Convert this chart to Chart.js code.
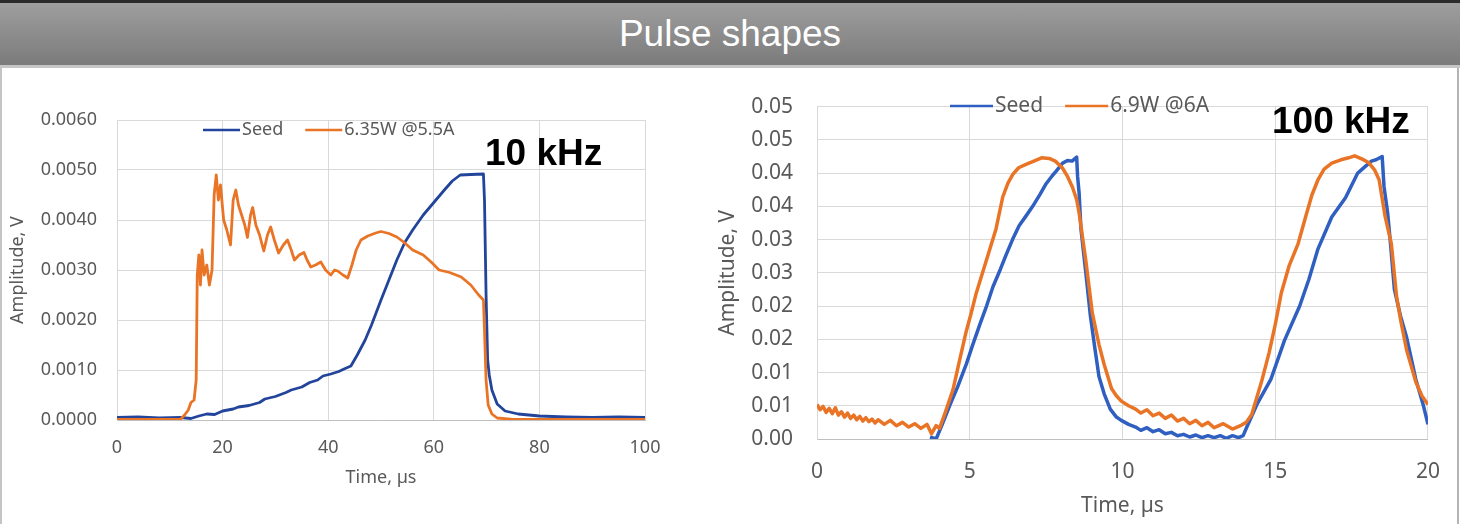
<!DOCTYPE html>
<html>
<head>
<meta charset="utf-8">
<script src="https://cdn.jsdelivr.net/npm/chart.js@4"></script>
<style>
  body { margin: 0; width: 1460px; height: 524px; background: #fff; position: relative; overflow: hidden; font-family: "Liberation Sans", Arial, sans-serif; }
  #bar { position: absolute; left: 0; top: 0; width: 1460px; height: 62px; border-top: 3px solid #2b2b2b; border-bottom: 3px solid #c6c6c6;
         background: linear-gradient(#9e9e9e, #7b7b7b); color: #fff; font-size: 37px; text-align: center; line-height: 62px; }
  #panel { position: absolute; left: 0; top: 68px; width: 1455px; height: 456px; border-left: 2px solid #c4c4c4; border-right: 2px solid #b4b4b4; }
  canvas { position: absolute; top: 70px; }
  #c10 { left: 0; }
  #c100 { left: 700px; }
</style>
</head>
<body>
<div id="bar">Pulse shapes</div>
<div id="panel"></div>
<canvas id="c10" width="700" height="454"></canvas>
<canvas id="c100" width="760" height="454"></canvas>
<script>
// ---- data ([time µs, amplitude V]) ----
const seriesNames10 = ["Seed", "6.35W @5.5A"];
const seriesNames100 = ["Seed", "6.9W @6A"];

const seed10k = [[0,0.00005],[4,0.00006],[8,0.00004],[12,0.00005],[14,0.00003],[15.5,0.00008],[17,0.00012],[18.5,0.00011],
  [20,0.00018],[22,0.00022],[23,0.00026],[25,0.00029],[27,0.00035],[28,0.00042],[30,0.00047],[32,0.00055],[33,0.0006],
  [35,0.00066],[36.5,0.00075],[38,0.0008],[39,0.00088],[40.5,0.00092],[42,0.00097],[43,0.00102],[44.3,0.00108],
  [45.5,0.0013],[47,0.0016],[48.2,0.0019],[50,0.0024],[51.5,0.0028],[53,0.0032],[54.5,0.00355],[56,0.0038],[58,0.0041],
  [60,0.00435],[62,0.0046],[63.5,0.00478],[65,0.0049],[67,0.00491],[69.4,0.00492],[69.6,0.0044],[69.9,0.0025],
  [70.2,0.0012],[70.5,0.0009],[71,0.0006],[72,0.00032],[73.5,0.00018],[76,0.00012],[80,0.00008],[85,0.00006],
  [90,0.00005],[95,0.00006],[100,0.00005]];

const amp10k = [[0,0.00001],[12,0.00001],[12.8,0.0001],[13.5,0.0002],[14,0.00035],[14.6,0.0004],[15,0.0008],[15.2,0.0029],
  [15.5,0.0033],[15.8,0.0027],[16.1,0.0034],[16.5,0.0029],[17,0.0031],[17.5,0.0027],[18,0.003],[18.4,0.0045],[18.8,0.0049],
  [19.2,0.0044],[19.6,0.0047],[20.2,0.004],[20.8,0.0038],[21.5,0.0035],[22,0.0044],[22.5,0.0046],[23,0.0043],[23.6,0.0041],
  [24.2,0.0039],[24.7,0.00365],[25.3,0.0041],[25.7,0.00425],[26.3,0.0039],[27,0.0037],[27.8,0.00338],[28.5,0.0037],
  [29.1,0.00386],[29.8,0.0036],[30.6,0.00334],[31.5,0.0035],[32.3,0.0036],[33,0.0034],[33.6,0.0032],[34.5,0.0033],
  [35.4,0.00335],[36,0.0032],[36.7,0.00306],[37.6,0.0031],[38.6,0.00316],[39.5,0.003],[40.5,0.0029],[41.2,0.003],
  [41.8,0.00298],[42.8,0.0029],[43.7,0.00284],[44.5,0.0031],[45.3,0.0034],[46.2,0.0036],[47.5,0.00368],[49,0.00374],
  [50,0.00377],[51.5,0.00373],[53,0.00366],[54.4,0.00355],[56,0.0034],[58,0.0033],[59.5,0.00316],[61,0.003],[63,0.00295],
  [65.2,0.00286],[67,0.0027],[68.5,0.0025],[69.4,0.0024],[69.6,0.0018],[69.9,0.0008],[70.3,0.0003],[71,0.00012],
  [72,0.00004],[75,0.00001],[100,0.00001]];

const seed100k = [[3.7,0.0003],[3.9,0.0],[4.1,0.0022],[4.34,0.005],[4.6,0.0078],[4.89,0.0113],[5.1,0.0142],[5.32,0.0171],
  [5.55,0.02],[5.76,0.0229],[6.0,0.0255],[6.19,0.0277],[6.4,0.03],[6.62,0.0321],[6.85,0.0336],[7.06,0.035],[7.3,0.0368],
  [7.5,0.0384],[7.7,0.0396],[7.83,0.0403],[8.04,0.0415],[8.2,0.0419],[8.35,0.0418],[8.5,0.0424],[8.53,0.0395],
  [8.58,0.037],[8.64,0.0316],[8.8,0.025],[8.95,0.0185],[9.1,0.0135],[9.23,0.0094],[9.4,0.0068],[9.6,0.0045],[9.8,0.0033],
  [9.96,0.0028],[10.2,0.0022],[10.43,0.0018],[10.6,0.0013],[10.8,0.0017],[11.0,0.0011],[11.2,0.0014],[11.4,0.0008],
  [11.6,0.001],[11.8,0.0005],[12.0,0.0007],[12.2,0.0003],[12.4,0.0006],[12.6,0.0002],[12.8,0.0005],[13.0,0.0002],
  [13.2,0.0005],[13.4,0.0001],[13.6,0.0005],[13.8,0.0002],[13.95,0.0005],[14.07,0.0018],[14.4,0.0052],[14.86,0.009],
  [15.3,0.0148],[15.8,0.02],[16.1,0.024],[16.4,0.0286],[16.85,0.0334],[17.3,0.0363],[17.7,0.04],[17.95,0.041],
  [18.15,0.0418],[18.3,0.042],[18.5,0.0425],[18.56,0.038],[18.68,0.034],[18.78,0.029],[18.9,0.0225],[19.1,0.0185],
  [19.3,0.0153],[19.6,0.009],[19.84,0.0052],[20,0.0022]];

const amp100k = [[0,0.0052],[0.1,0.0044],[0.2,0.0049],[0.3,0.004],[0.4,0.0046],[0.5,0.0038],[0.6,0.0047],[0.7,0.0036],
  [0.8,0.0041],[0.9,0.0033],[1.0,0.0039],[1.1,0.0031],[1.2,0.0036],[1.3,0.0029],[1.4,0.0034],[1.5,0.0027],[1.6,0.0032],
  [1.7,0.0026],[1.8,0.003],[1.9,0.0024],[2.0,0.0029],[2.2,0.0022],[2.4,0.0028],[2.6,0.002],[2.8,0.0025],[3.0,0.0018],
  [3.2,0.0023],[3.4,0.0016],[3.6,0.0022],[3.75,0.0008],[3.9,0.002],[4.01,0.0016],[4.2,0.004],[4.45,0.0074],[4.65,0.0115],
  [4.88,0.0161],[5.05,0.019],[5.21,0.0219],[5.54,0.0268],[5.86,0.0316],[6.08,0.0364],[6.25,0.0385],[6.41,0.0398],
  [6.6,0.0408],[6.84,0.0413],[7.1,0.0418],[7.35,0.0423],[7.6,0.0422],[7.8,0.0418],[8.03,0.0408],[8.2,0.0395],
  [8.36,0.0379],[8.5,0.036],[8.58,0.034],[8.8,0.0268],[9.01,0.019],[9.23,0.0142],[9.4,0.0112],[9.64,0.0076],[9.8,0.0065],
  [9.96,0.0057],[10.2,0.005],[10.43,0.0045],[10.6,0.0039],[10.8,0.0044],[11.0,0.0035],[11.2,0.0039],[11.4,0.0031],
  [11.6,0.0036],[11.8,0.0027],[12.0,0.0031],[12.2,0.0023],[12.4,0.0028],[12.6,0.002],[12.8,0.0025],[13.0,0.0017],
  [13.3,0.0023],[13.6,0.0015],[13.9,0.0021],[14.05,0.0025],[14.23,0.0037],[14.55,0.0086],[14.8,0.013],[15.0,0.0172],
  [15.2,0.022],[15.45,0.026],[15.75,0.0294],[16.0,0.0335],[16.2,0.0367],[16.4,0.039],[16.6,0.0406],[16.85,0.0415],
  [17.15,0.042],[17.4,0.0423],[17.6,0.0426],[17.85,0.0421],[18.05,0.0416],[18.25,0.0405],[18.4,0.039],[18.6,0.0334],
  [18.8,0.0294],[18.97,0.0215],[19.1,0.018],[19.3,0.0134],[19.45,0.011],[19.6,0.0086],[19.8,0.0065],[20,0.0052]];

// tick labels as printed
const yTicks10 = ["0.0000","0.0010","0.0020","0.0030","0.0040","0.0050","0.0060"];
const xTicks10 = ["0","20","40","60","80","100"];
const yTicks100 = ["0.00","0.01","0.01","0.02","0.02","0.03","0.03","0.04","0.04","0.05","0.05"];
const xTicks100 = ["0","5","10","15","20"];

const FONT = "'Noto Sans', sans-serif";
const GREY = "#595959";

// legend drawn inside the plot area + frequency tag
const insideLegend = {
  id: "insideLegend",
  afterDraw(chart, args, o) {
    const ctx = chart.ctx;
    ctx.save();
    ctx.font = o.size + "px " + FONT;
    ctx.textBaseline = "middle";
    let x = o.x;
    chart.data.datasets.forEach(ds => {
      ctx.strokeStyle = ds.borderColor;
      ctx.lineWidth = 2.5;
      ctx.beginPath();
      ctx.moveTo(x, o.y);
      ctx.lineTo(x + o.lineLen, o.y);
      ctx.stroke();
      x += o.lineLen + 2;
      ctx.fillStyle = GREY;
      ctx.fillText(ds.label, x, o.y);
      x += ctx.measureText(ds.label).width + 22;
    });
    ctx.font = "bold 37px 'Liberation Sans', Arial, sans-serif";
    ctx.fillStyle = "#000";
    ctx.textBaseline = "alphabetic";
    ctx.fillText(o.tag, o.tagX, o.tagY);
    ctx.restore();
  }
};

function toPts(arr) { return arr.map(p => ({ x: p[0], y: p[1] })); }

function makeChart(id, cfg) {
  const fnt = { family: FONT, size: cfg.fontSize };
  return new Chart(document.getElementById(id), {
    type: "line",
    data: {
      datasets: [
        { label: cfg.names[0], data: toPts(cfg.seed), borderColor: cfg.blue, borderWidth: cfg.lw, order: 1 },
        { label: cfg.names[1], data: toPts(cfg.amp), borderColor: "#ea7425", borderWidth: cfg.lw, order: 0 }
      ]
    },
    options: {
      responsive: false,
      animation: false,
      layout: { padding: { left: 0, right: cfg.padRight, top: cfg.padTop, bottom: 0 } },
      elements: { point: { radius: 0 }, line: { tension: 0, borderJoinStyle: "round" } },
      plugins: {
        legend: { display: false },
        tooltip: { enabled: false },
        insideLegend: cfg.legend
      },
      scales: {
        x: {
          type: "linear", min: 0, max: cfg.xMax,
          afterFit: s => { s.height = cfg.xHeight; },
          grid: { color: "#d9d9d9", drawTicks: false },
          border: { color: "#bfbfbf" },
          ticks: { stepSize: cfg.xStep, padding: cfg.xTickPad, color: GREY, font: fnt, maxRotation: 0,
                   callback: (v, i) => cfg.xTicks[i] },
          title: { display: true, text: "Time, µs", color: GREY, font: fnt, padding: { top: 0, bottom: cfg.xTitlePad } }
        },
        y: {
          min: 0, max: cfg.yMax,
          afterFit: s => { s.width = 117; },
          grid: { color: "#d9d9d9", drawTicks: false },
          border: { color: "#d9d9d9" },
          ticks: { stepSize: cfg.yStep, padding: cfg.yTickPad, color: GREY, font: fnt,
                   callback: (v, i) => cfg.yTicks[i] },
          title: { display: true, text: "Amplitude, V", color: GREY, font: fnt, padding: { top: cfg.yTitlePad, bottom: 0 } }
        }
      }
    },
    plugins: [insideLegend]
  });
}

makeChart("c10", {
  names: seriesNames10, seed: seed10k, amp: amp10k, blue: "#22449b", lw: 2.8,
  fontSize: 18, padRight: 55, padTop: 50, xHeight: 104,
  xMax: 100, xStep: 20, xTicks: xTicks10, xTickPad: 17, xTitlePad: 35,
  yMax: 0.006, yStep: 0.001, yTicks: yTicks10, yTickPad: 20, yTitlePad: 7,
  legend: { x: 203, y: 60, lineLen: 37, size: 18, tag: "10 kHz", tagX: 485, tagY: 95 }
});

makeChart("c100", {
  names: seriesNames100, seed: seed100k, amp: amp100k, blue: "#2f5fc0", lw: 3.5,
  fontSize: 21, padRight: 30, padTop: 25, xHeight: 85,
  xMax: 20, xStep: 5, xTicks: xTicks100, xTickPad: 20, xTitlePad: 5,
  yMax: 0.05, yStep: 0.005, yTicks: yTicks100, yTickPad: 24, yTitlePad: 15,
  legend: { x: 250, y: 36, lineLen: 43, size: 21, tag: "100 kHz", tagX: 572, tagY: 63 }
});
</script>
</body>
</html>
